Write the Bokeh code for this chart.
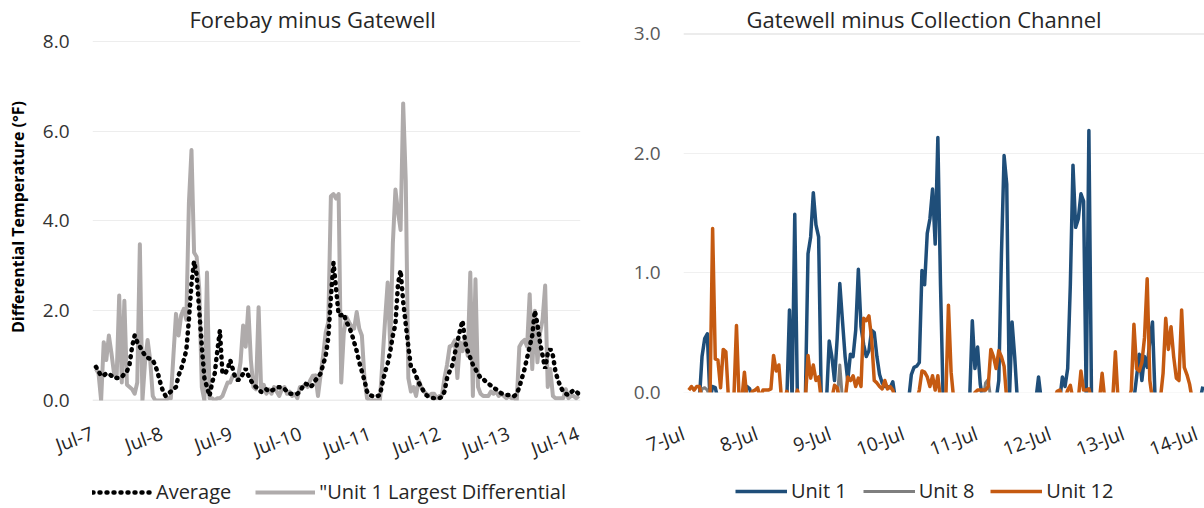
from bokeh.plotting import figure
from bokeh.models import (Range1d, FixedTicker, PrintfTickFormatter, Legend,
                          LegendItem, Span, BoxAnnotation)
from bokeh.layouts import row, column
from bokeh.embed import file_html
from bokeh.resources import INLINE

FONT = "Open Sans"

# ---------------- axis labels ----------------
day_ticks = [0, 1, 2, 3, 4, 5, 6, 7]
left_day_labels = ["Jul-7", "Jul-8", "Jul-9", "Jul-10", "Jul-11", "Jul-12", "Jul-13", "Jul-14"]
right_day_labels = ["7-Jul", "8-Jul", "9-Jul", "10-Jul", "11-Jul", "12-Jul", "13-Jul", "14-Jul"]
left_y_ticks = [0, 2, 4, 6, 8]
right_y_ticks = [0, 1, 2, 3]

# ---------------- left chart: Forebay minus Gatewell ----------------
left_first_day = 0.05     # days after Jul-7 00:00 of first reading
left_step_day = 0.0372    # spacing of readings (days)

average = [
    0.75, 0.65, 0.55, 0.56, 0.6, 0.6, 0.55, 0.55, 0.5, 0.5,
    0.52, 0.6, 0.65, 0.8, 1.2, 1.45, 1.3, 1.2, 1.1, 1.0,
    0.95, 0.93, 0.9, 0.78, 0.6, 0.38, 0.2, 0.1, 0.15, 0.2,
    0.25, 0.3, 0.56, 0.7, 0.9, 1.12, 1.8, 2.6, 3.1, 2.8,
    2.0, 1.2, 0.5, 0.3, 0.1, 0.4, 0.6, 1.1, 1.56, 0.6,
    0.6, 0.7, 0.9, 0.7, 0.5, 0.45, 0.5, 0.6, 0.71, 0.56,
    0.45, 0.35, 0.3, 0.25, 0.19, 0.2, 0.25, 0.2, 0.22, 0.25,
    0.28, 0.3, 0.28, 0.26, 0.2, 0.15, 0.15, 0.15, 0.15, 0.2,
    0.3, 0.38, 0.35, 0.3, 0.35, 0.45, 0.52, 0.6, 0.8, 1.0,
    1.4, 2.3, 3.07, 2.5, 1.9, 1.9, 1.93, 1.75, 1.65, 1.5,
    1.3, 1.1, 0.85, 0.65, 0.45, 0.2, 0.12, 0.1, 0.08, 0.1,
    0.12, 0.4, 0.64, 0.82, 1.1, 1.45, 1.7, 2.6, 2.9, 2.2,
    1.7, 1.2, 0.75, 0.7, 0.55, 0.4, 0.3, 0.2, 0.12, 0.08,
    0.06, 0.05, 0.05, 0.05, 0.08, 0.2, 0.5, 0.65, 0.78, 1.05,
    1.3, 1.56, 1.78, 1.3, 1.1, 0.95, 0.8, 0.7, 0.6, 0.5,
    0.48, 0.42, 0.38, 0.33, 0.28, 0.25, 0.2, 0.16, 0.14, 0.12,
    0.12, 0.1, 0.1, 0.15, 0.3, 0.5, 0.7, 0.95, 1.2, 1.45,
    2.0, 1.7, 1.3, 1.0, 0.71, 1.05, 1.15, 1.0, 0.64, 0.45,
    0.3, 0.2, 0.15, 0.12, 0.18, 0.23, 0.2, 0.15,
]

unit1_largest = [
    0.7, 0.6, 0.0, 1.3, 0.9, 1.45, 1.05, 0.6, 0.5, 2.34,
    0.4, 2.22, 0.35, 0.3, 0.25, 0.15, 0.4, 3.48, 0.0, 0.85,
    1.35, 0.9, 0.1, 0.0, 0.0, 0.0, 0.0, 0.0, 0.05, 0.05,
    1.0, 1.93, 1.45, 1.9, 2.04, 1.8, 4.4, 5.58, 3.3, 3.2,
    2.5, 0.3, 0.0, 2.85, 0.05, 0.05, 0.0, 0.05, 0.05, 0.1,
    0.25, 0.4, 0.4, 0.55, 0.55, 0.5, 0.85, 1.67, 1.2, 2.08,
    0.9, 0.3, 0.25, 2.08, 0.2, 0.35, 0.15, 0.25, 0.15, 0.3,
    0.2, 0.1, 0.25, 0.3, 0.15, 0.2, 0.1, 0.15, 0.05, 0.3,
    0.3, 0.35, 0.3, 0.45, 0.55, 0.56, 0.1, 0.56, 1.0, 1.52,
    1.75, 4.55, 4.6, 4.5, 4.6, 0.4, 1.5, 1.86, 1.75, 1.65,
    1.6, 1.97, 1.6, 1.45, 0.5, 0.05, 0.0, 0.0, 0.0, 0.0,
    0.0, 0.9, 1.8, 2.63, 1.2, 3.5, 4.7, 4.2, 3.8, 6.62,
    4.9, 0.5, 0.2, 0.3, 0.1, 0.45, 0.3, 0.2, 0.15, 0.1,
    0.15, 0.15, 0.05, 0.1, 0.1, 0.5, 0.8, 1.2, 1.23, 1.34,
    0.5, 1.3, 1.1, 1.4, 1.0, 2.85, 0.1, 2.7, 0.3, 0.15,
    0.1, 0.1, 0.1, 0.2, 0.15, 0.2, 0.1, 0.15, 0.1, 0.05,
    0.1, 0.05, 0.05, 0.0, 1.2, 1.3, 1.35, 1.2, 2.37, 0.7,
    2.0, 0.85, 1.5, 1.8, 2.56, 0.3, 0.7, 0.1, 0.05, 0.05,
    0.05, 0.05, 0.25, 0.05, 0.1, 0.1, 0.05, 0.1,
]

# ---------------- right chart: Gatewell minus Collection Channel ----------------
# negative readings fall below the 0.0 start of the value axis and are not shown
right_first_day = 0.072
right_step_day = 0.03615

unit1 = [
    -0.06, -0.06, -0.06, -0.06, -0.06, 0.3, 0.45, 0.49, -0.06, 0.05, 0.04, -0.06,
    -0.06, -0.06, -0.06, -0.06, -0.06, -0.06, -0.06, -0.06, -0.06, -0.06, 0.05, 0.03,
    -0.06, -0.06, -0.06, -0.06, -0.06, -0.06, -0.06, -0.06, -0.06, -0.06, -0.06, -0.06,
    -0.06, -0.06, 0.69, -0.06, 1.49, -0.06, -0.06, -0.06, -0.06, 1.16, 1.3, 1.67,
    1.4, 1.3, -0.06, -0.06, -0.06, 0.43, 0.3, 0.1, 0.45, 0.91, 0.6, 0.3,
    0.1, 0.32, 0.3, 0.52, 1.03, 0.55, 0.4, 0.3, 0.35, 0.52, 0.5, 0.3,
    0.15, 0.08, 0.05, 0.05, 0.04, 0.09, -0.06, -0.06, -0.06, -0.06, -0.06, -0.06,
    0.15, 0.21, 0.22, 0.25, 1.02, 0.9, 1.33, 1.45, 1.7, 1.24, 2.13, 0.9,
    -0.06, -0.06, -0.06, -0.06, -0.06, -0.06, -0.06, -0.06, -0.06, -0.06, -0.06, 0.6,
    0.2, 0.38, 0.07, -0.06, -0.06, -0.06, -0.06, -0.06, -0.06, 0.1, 1.15, 1.98,
    1.74, -0.06, 0.59, 0.3, -0.06, -0.06, -0.06, -0.06, -0.06, -0.06, -0.06, -0.06,
    0.13, -0.06, -0.06, -0.06, -0.06, -0.06, -0.06, -0.06, -0.06, 0.13, 0.05, 0.2,
    0.9, 1.9, 1.38, 1.45, 1.66, 1.6, -0.06, 2.19, -0.06, -0.06, -0.06, -0.06,
    -0.06, -0.06, -0.06, -0.06, -0.06, -0.06, -0.06, -0.06, -0.06, -0.06, -0.06, -0.06,
    -0.06, 0.13, 0.32, 0.1, 0.3, 0.21, 0.43, 0.59, -0.06, -0.06, -0.06, -0.06,
    -0.06, -0.06, -0.06, -0.06, -0.06, -0.06, -0.06, -0.06, -0.06, -0.06, -0.06, -0.06,
    -0.06, -0.06, 0.05,
]

unit8 = [
    -0.06, -0.06, -0.06, -0.06, -0.06, 0.03, 0.04, 0.02, -0.06, -0.06, -0.06, -0.06,
    -0.06, -0.06, -0.06, -0.06, -0.06, -0.06, -0.06, -0.06, -0.06, -0.06, -0.06, -0.06,
    -0.06, -0.06, -0.06, -0.06, -0.06, -0.06, -0.06, -0.06, -0.06, -0.06, -0.06, -0.06,
    -0.06, -0.06, -0.06, -0.06, -0.06, -0.06, -0.06, -0.06, -0.06, -0.06, -0.06, -0.06,
    -0.06, -0.06, -0.06, -0.06, -0.06, -0.06, -0.06, -0.06, -0.06, 0.23, -0.06, -0.06,
    -0.06, -0.06, -0.06, -0.06, -0.06, -0.06, -0.06, -0.06, -0.06, -0.06, -0.06, -0.06,
    -0.06, -0.06, -0.06, -0.06, -0.06, -0.06, -0.06, -0.06, -0.06, -0.06, -0.06, -0.06,
    -0.06, -0.06, -0.06, -0.06, -0.06, -0.06, -0.06, -0.06, -0.06, -0.06, -0.06, -0.06,
    -0.06, -0.06, -0.06, -0.06, -0.06, -0.06, -0.06, -0.06, -0.06, -0.06, -0.06, -0.06,
    -0.06, -0.06, -0.06, -0.06, 0.08, 0.11, -0.06, -0.06, -0.06, -0.06, -0.06, -0.06,
    -0.06, -0.06, -0.06, -0.06, -0.06, -0.06, -0.06, -0.06, -0.06, -0.06, -0.06, -0.06,
    -0.06, -0.06, -0.06, -0.06, -0.06, -0.06, -0.06, -0.06, 0.02, -0.06, -0.06, -0.06,
    -0.06, -0.06, -0.06, -0.06, -0.06, -0.06, -0.06, -0.06, -0.06, -0.06, -0.06, -0.06,
    -0.06, -0.06, -0.06, -0.06, -0.06, -0.06, -0.06, -0.06, -0.06, -0.06, -0.06, -0.06,
    -0.06, -0.06, -0.06, -0.06, -0.06, -0.06, -0.06, -0.06, -0.06, -0.06, -0.06, -0.06,
    -0.06, -0.06, -0.06, -0.06, -0.06, -0.06, -0.06, -0.06, -0.06, -0.06, -0.06, -0.06,
    -0.06, -0.06, -0.06,
]

unit12 = [
    0.02, 0.05, 0.02, 0.05, 0.05, -0.06, -0.06, -0.06, -0.06, 1.37, 0.28, 0.27,
    0.04, 0.36, 0.34, -0.06, -0.06, -0.06, 0.56, -0.06, -0.06, 0.17, -0.06, -0.05,
    0.01, 0.02, 0.04, -0.05, 0.02, 0.02, 0.02, 0.03, 0.31, 0.18, 0.23, -0.06,
    -0.06, 0.01, -0.06, -0.06, -0.06, 0.02, -0.06, -0.06, -0.06, 0.31, 0.12, 0.23,
    0.1, 0.13, -0.06, -0.06, -0.06, -0.06, -0.05, 0.06, 0.04, -0.06, -0.06, -0.06,
    0.13, 0.1, 0.14, 0.05, 0.12, 0.05, 0.62, 0.6, 0.64, 0.45, 0.1, 0.08,
    0.05, 0.03, 0.1, 0.03, 0.05, 0.02, -0.06, -0.06, -0.06, -0.06, -0.06, -0.06,
    -0.06, -0.06, -0.06, 0.02, 0.18, 0.17, 0.13, 0.05, 0.14, 0.02, 0.14, -0.06,
    -0.06, -0.06, 0.73, 0.17, -0.06, -0.06, -0.06, -0.06, -0.06, -0.06, -0.06, -0.06,
    0.0, 0.02, 0.02, 0.02, 0.02, 0.05, 0.36, 0.3, 0.2, 0.35, 0.3, 0.22,
    -0.06, -0.06, -0.06, -0.06, -0.06, -0.06, -0.06, -0.06, -0.06, -0.06, -0.06, -0.06,
    -0.06, -0.06, -0.06, -0.06, -0.06, -0.06, -0.06, 0.01, 0.02, -0.05, -0.05, 0.02,
    0.06, -0.06, -0.06, -0.06, 0.18, 0.02, 0.02, 0.03, -0.06, -0.06, -0.06, -0.06,
    0.16, -0.06, -0.06, -0.06, -0.06, 0.34, -0.06, -0.06, -0.06, -0.06, -0.06, 0.02,
    0.57, 0.2, 0.18, 0.25, 0.46, 0.95, 0.1, -0.06, -0.06, -0.06, -0.05, 0.16,
    0.62, 0.36, 0.55, 0.3, 0.12, 0.1, 0.69, 0.21, 0.15, 0.07, -0.06, -0.06,
    -0.06, -0.06, -0.06,
]


def days_for(series, first, step):
    return [first + i * step for i in range(len(series))]


def style_axes(p, ylabel_color, xlabel_color, y_standoff, x_standoff):
    p.outline_line_color = None
    p.xgrid.visible = False
    for ax in (p.xaxis[0], p.yaxis[0]):
        ax.axis_line_color = None
        ax.major_tick_line_color = None
        ax.minor_tick_line_color = None
        ax.major_tick_out = 0
        ax.major_tick_in = 0
        ax.major_label_text_font = FONT
        ax.major_label_text_font_size = "19px"
    p.yaxis[0].major_label_text_color = ylabel_color
    p.xaxis[0].major_label_text_color = xlabel_color
    p.yaxis[0].major_label_standoff = y_standoff
    p.xaxis[0].major_label_standoff = x_standoff
    p.yaxis[0].formatter = PrintfTickFormatter(format="%.1f")
    p.xaxis[0].ticker = FixedTicker(ticks=day_ticks)
    p.xaxis[0].major_label_orientation = 0.35


def style_title(t, offset):
    t.align = "left"
    t.offset = offset
    t.text_font = FONT
    t.text_font_size = "22px"
    t.text_font_style = "normal"
    t.text_color = "#262626"
    t.standoff = 0


STRIP_H = 32


def legend_strip(width, specs, x, y, glyph_width, spacing):
    """A small plot that only carries the legend under a chart."""
    f = figure(width=width, height=STRIP_H, x_range=Range1d(0, 1), y_range=Range1d(0, 1),
               x_axis_type=None, y_axis_type=None, output_backend="svg",
               toolbar_location=None, min_border=0, min_border_left=0,
               min_border_right=0, min_border_top=0, min_border_bottom=0)
    f.outline_line_color = None
    f.grid.visible = False
    items = []
    for label, kw in specs:
        # swatch renderer only: its points lie outside the strip's ranges
        r = f.line([-2, -1], [-2, -1], **kw)
        items.append(LegendItem(label=label, renderers=[r]))
    f.add_layout(Legend(items=items, orientation="horizontal", location=(x, y),
                        glyph_width=glyph_width, glyph_height=20, label_height=20,
                        label_standoff=4, spacing=spacing, padding=0, margin=0,
                        background_fill_alpha=0, border_line_color=None,
                        label_text_font=FONT, label_text_font_size="20px",
                        label_text_color="#262626"))
    return f


HP = 508 - STRIP_H   # chart height; legend strip below it
BOTTOM = HP - 402    # both plot areas end at y = 402 px

# ================= LEFT FIGURE =================
p1 = figure(width=600, height=HP, title="Forebay minus Gatewell",
            x_range=Range1d(0, 7.032), y_range=Range1d(0, 8.177),
            output_backend="svg", toolbar_location=None,
            min_border_left=92, min_border_right=20,
            min_border_top=33, min_border_bottom=BOTTOM)
style_title(p1.title, 97)
style_axes(p1, "#333333", "#262626", 23, 32)
p1.yaxis[0].ticker = FixedTicker(ticks=left_y_ticks)
p1.xaxis[0].major_label_overrides = {t: lab for t, lab in zip(day_ticks, left_day_labels)}
p1.yaxis[0].axis_label = "Differential Temperature (°F)"
p1.yaxis[0].axis_label_text_font = FONT
p1.yaxis[0].axis_label_text_font_size = "16px"
p1.yaxis[0].axis_label_text_font_style = "bold"
p1.yaxis[0].axis_label_text_color = "black"
p1.yaxis[0].axis_label_standoff = 11
p1.ygrid.grid_line_color = "#EDEDED"
p1.add_layout(Span(location=0, dimension="width", line_color="#D9D9D9",
                   line_width=1.5, level="underlay"))

avg_style = dict(line_color="black", line_width=4.5, line_dash="1 6", line_cap="round")
big_style = dict(line_color="#AFABAB", line_width=4, line_join="round")
p1.line(days_for(unit1_largest, left_first_day, left_step_day), unit1_largest, **big_style)
p1.line(days_for(average, left_first_day, left_step_day), average, **avg_style)

# the strip's plot area lines up with the chart's (x = 92 .. 580)
leg1 = legend_strip(600, [("Average", avg_style),
                          ('"Unit 1 Largest Differential', big_style)],
                    0, 3, 60, 24)

# ================= RIGHT FIGURE =================
p2 = figure(width=604, height=HP, title="Gatewell minus Collection Channel",
            x_range=Range1d(0, 7.108), y_range=Range1d(-0.0836, 3.0),
            output_backend="svg", toolbar_location=None,
            min_border_left=83, min_border_right=0,
            min_border_top=33, min_border_bottom=BOTTOM)
style_title(p2.title, 63)
style_axes(p2, "#595959", "#262626", 23, 30)
p2.yaxis[0].ticker = FixedTicker(ticks=right_y_ticks)
p2.xaxis[0].major_label_overrides = {t: lab for t, lab in zip(day_ticks, right_day_labels)}
p2.ygrid.grid_line_color = "#F0F0F0"
p2.add_layout(Span(location=3, dimension="width", line_color="#D9D9D9",
                   line_width=2, level="underlay"))

u1_style = dict(line_color="#1F4E79", line_width=3.5, line_join="round")
u8_style = dict(line_color="#7F7F7F", line_width=3, line_join="round")
u12_style = dict(line_color="#C55A11", line_width=3.5, line_join="round")
p2.line(days_for(unit1, right_first_day, right_step_day), unit1, **u1_style)
p2.line(days_for(unit8, right_first_day, right_step_day), unit8, **u8_style)
p2.line(days_for(unit12, right_first_day, right_step_day), unit12, **u12_style)
# the value axis starts at 0.0: hide anything drawn below it
p2.add_layout(BoxAnnotation(top=0, fill_color="white", fill_alpha=1,
                            line_alpha=0, level="overlay"))

leg2 = legend_strip(604, [("Unit 1", u1_style), ("Unit 8", u8_style),
                          ("Unit 12", u12_style)],
                    52, 4, 52, 16)

layout = row(column(p1, leg1), column(p2, leg2))
open("out.html", "w").write(file_html(layout, INLINE))
